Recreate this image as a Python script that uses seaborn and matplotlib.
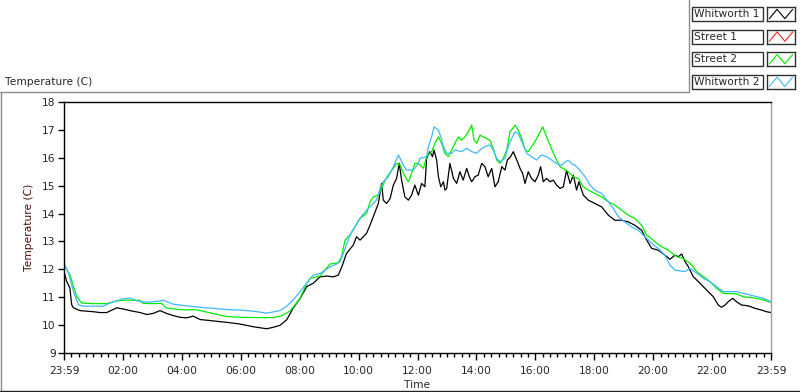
import numpy as np
import pandas as pd
import matplotlib
matplotlib.use("Agg")
import matplotlib.pyplot as plt
from matplotlib.lines import Line2D
from matplotlib.patches import Rectangle
import seaborn as sns

# --- data (hours since 23:59, deg C) ---
series_names = ["Whitworth 1", "Street 1", "Street 2", "Whitworth 2"]
series_colors = ["#000000", "#ff2020", "#00ee00", "#40b8ff"]

tick_hours = list(range(0, 25, 2))
tick_labels = ["23:59", "02:00", "04:00", "06:00", "08:00", "10:00", "12:00",
               "14:00", "16:00", "18:00", "20:00", "22:00", "23:59"]

w1_hours = [0.00, 0.09, 0.20, 0.26, 0.32, 0.54, 0.77, 1.00, 1.22, 1.45, 1.79, 2.00,
            2.24, 2.58, 2.81, 3.03, 3.26, 3.48, 3.71, 3.94, 4.16, 4.39, 4.62, 5.07,
            5.52, 5.97, 6.43, 6.88, 7.10, 7.33, 7.56, 7.78, 8.01, 8.24, 8.46, 8.69,
            8.92, 9.14, 9.31, 9.43, 9.59, 9.82, 9.93, 10.05, 10.16, 10.27, 10.39, 10.50,
            10.67, 10.78, 10.84, 10.95, 11.07, 11.18, 11.29, 11.38, 11.46, 11.57, 11.69, 11.80,
            11.91, 12.03, 12.14, 12.25, 12.31, 12.42, 12.51, 12.56, 12.65, 12.71, 12.79, 12.88,
            12.93, 12.99, 13.10, 13.22, 13.33, 13.44, 13.55, 13.67, 13.76, 13.84, 13.95, 14.06,
            14.18, 14.29, 14.40, 14.52, 14.63, 14.74, 14.86, 14.97, 15.05, 15.16, 15.25, 15.37,
            15.48, 15.57, 15.65, 15.76, 15.87, 15.99, 16.10, 16.18, 16.27, 16.38, 16.50, 16.61,
            16.72, 16.84, 16.95, 17.06, 17.18, 17.29, 17.40, 17.48, 17.63, 17.80, 18.02, 18.25,
            18.48, 18.70, 18.93, 19.16, 19.38, 19.61, 19.78, 19.95, 20.17, 20.40, 20.57, 20.74,
            20.85, 20.97, 21.08, 21.19, 21.36, 21.59, 21.81, 22.04, 22.21, 22.32, 22.44, 22.55,
            22.70, 22.83, 23.00, 23.23, 23.46, 23.68, 23.85, 24.00]
w1_temp = [11.92, 11.57, 11.33, 10.73, 10.62, 10.52, 10.50, 10.48, 10.45, 10.45, 10.62, 10.58,
           10.52, 10.45, 10.38, 10.42, 10.52, 10.42, 10.34, 10.28, 10.26, 10.32, 10.20, 10.15,
           10.10, 10.04, 9.94, 9.87, 9.92, 9.99, 10.19, 10.61, 10.95, 11.38, 11.50, 11.73,
           11.76, 11.73, 11.79, 12.09, 12.57, 12.87, 13.17, 13.05, 13.17, 13.29, 13.59, 13.89,
           14.36, 15.08, 14.48, 14.36, 14.54, 15.02, 15.26, 15.80, 15.20, 14.60, 14.48, 14.66,
           15.02, 14.66, 15.08, 14.96, 15.98, 16.22, 16.04, 16.28, 15.92, 15.32, 14.96, 15.14,
           14.84, 14.90, 15.80, 15.26, 15.08, 15.50, 15.20, 15.62, 15.32, 15.14, 15.32, 15.38,
           15.80, 15.68, 15.32, 15.62, 14.96, 15.14, 15.68, 15.56, 15.92, 16.04, 16.22, 15.92,
           15.62, 15.44, 15.08, 15.50, 15.26, 15.14, 15.38, 15.68, 15.14, 15.26, 15.14, 15.20,
           15.02, 14.90, 14.96, 15.55, 15.08, 15.38, 14.84, 15.14, 14.66, 14.48, 14.36, 14.24,
           13.94, 13.76, 13.76, 13.70, 13.58, 13.40, 13.05, 12.75, 12.69, 12.51, 12.36, 12.51,
           12.45, 12.55, 12.28, 12.10, 11.74, 11.50, 11.26, 11.02, 10.72, 10.64, 10.72, 10.84,
           10.96, 10.84, 10.72, 10.69, 10.60, 10.54, 10.48, 10.45]

s2_hours = [0.00, 0.20, 0.43, 0.60, 1.00, 1.45, 1.79, 2.00, 2.58, 2.69, 3.00, 3.31,
            3.48, 4.00, 4.50, 5.00, 5.52, 6.00, 6.65, 7.00, 7.33, 7.67, 8.01, 8.24,
            8.35, 8.69, 9.03, 9.14, 9.31, 9.42, 9.54, 9.71, 9.88, 10.05, 10.27, 10.39,
            10.50, 10.67, 10.78, 10.90, 11.01, 11.18, 11.29, 11.41, 11.52, 11.69, 11.80, 11.91,
            12.03, 12.20, 12.31, 12.48, 12.59, 12.71, 12.82, 12.93, 13.05, 13.16, 13.27, 13.39,
            13.50, 13.61, 13.72, 13.84, 13.92, 14.01, 14.12, 14.23, 14.35, 14.46, 14.57, 14.69,
            14.80, 14.91, 15.03, 15.14, 15.31, 15.42, 15.54, 15.65, 15.76, 15.87, 15.99, 16.13,
            16.25, 16.36, 16.47, 16.59, 16.72, 16.84, 16.95, 17.12, 17.29, 17.46, 17.63, 17.80,
            18.02, 18.25, 18.48, 18.70, 18.93, 19.16, 19.38, 19.61, 19.78, 19.95, 20.12, 20.29,
            20.51, 20.80, 21.02, 21.25, 21.48, 21.70, 21.93, 22.15, 22.38, 22.83, 23.06, 23.51,
            23.74, 24.00]
s2_temp = [12.19, 11.80, 11.03, 10.79, 10.77, 10.77, 10.87, 10.89, 10.89, 10.78, 10.77, 10.78,
           10.61, 10.55, 10.55, 10.43, 10.31, 10.28, 10.27, 10.27, 10.31, 10.50, 10.95, 11.50,
           11.67, 11.76, 12.19, 12.21, 12.24, 12.45, 13.05, 13.23, 13.53, 13.83, 14.00, 14.42,
           14.60, 14.66, 14.90, 15.20, 15.38, 15.62, 15.80, 15.74, 15.44, 15.14, 15.44, 15.80,
           15.80, 15.62, 16.04, 16.22, 16.52, 16.75, 16.52, 16.16, 16.04, 16.28, 16.52, 16.75,
           16.63, 16.75, 16.93, 17.17, 16.63, 16.52, 16.81, 16.75, 16.69, 16.63, 16.34, 15.92,
           15.80, 15.98, 16.28, 16.93, 17.17, 16.99, 16.69, 16.28, 16.22, 16.40, 16.58, 16.87,
           17.11, 16.81, 16.52, 16.22, 15.92, 15.68, 15.61, 15.50, 15.32, 15.26, 14.96, 14.84,
           14.72, 14.60, 14.42, 14.30, 14.12, 13.94, 13.82, 13.58, 13.22, 13.10, 12.93, 12.81,
           12.69, 12.45, 12.39, 12.22, 11.92, 11.74, 11.56, 11.32, 11.14, 11.12, 11.02, 10.96,
           10.90, 10.82]

w2_hours = [0.00, 0.15, 0.32, 0.49, 0.66, 1.00, 1.33, 1.56, 1.79, 2.00, 2.24, 2.47,
            2.81, 3.15, 3.37, 3.71, 4.16, 4.62, 5.07, 5.52, 5.97, 6.43, 6.88, 7.10,
            7.33, 7.56, 7.78, 8.01, 8.24, 8.46, 8.69, 9.03, 9.26, 9.37, 9.48, 9.71,
            9.88, 10.01, 10.10, 10.27, 10.61, 10.73, 10.84, 11.01, 11.18, 11.35, 11.41, 11.52,
            11.63, 11.86, 12.03, 12.08, 12.31, 12.37, 12.48, 12.56, 12.71, 12.79, 12.88, 12.99,
            13.16, 13.27, 13.50, 13.67, 13.84, 14.01, 14.12, 14.29, 14.46, 14.57, 14.69, 14.80,
            14.97, 15.08, 15.20, 15.31, 15.42, 15.54, 15.71, 15.87, 16.04, 16.21, 16.38, 16.55,
            16.72, 16.89, 17.01, 17.12, 17.23, 17.35, 17.52, 17.69, 17.86, 18.02, 18.25, 18.48,
            18.65, 18.82, 19.04, 19.27, 19.50, 19.72, 19.95, 20.17, 20.40, 20.57, 20.74, 21.08,
            21.25, 21.48, 21.70, 21.93, 22.15, 22.38, 22.83, 23.06, 23.29, 23.51, 23.74, 24.00]
w2_temp = [12.22, 11.87, 11.21, 10.73, 10.68, 10.68, 10.68, 10.79, 10.87, 10.94, 10.97, 10.87,
           10.82, 10.85, 10.89, 10.75, 10.69, 10.64, 10.60, 10.56, 10.54, 10.50, 10.43, 10.47,
           10.52, 10.68, 10.90, 11.20, 11.50, 11.79, 11.85, 12.09, 12.19, 12.27, 12.57, 13.23,
           13.53, 13.77, 13.90, 14.12, 14.48, 14.90, 15.14, 15.32, 15.68, 16.10, 15.98, 15.74,
           15.56, 15.56, 15.80, 15.98, 16.04, 16.40, 16.75, 17.11, 16.99, 16.75, 16.40, 16.16,
           16.16, 16.28, 16.22, 16.34, 16.22, 16.16, 16.28, 16.40, 16.46, 16.28, 15.98, 15.86,
           15.98, 16.40, 16.70, 16.93, 16.87, 16.58, 16.16, 16.04, 15.92, 16.10, 16.04, 15.92,
           15.80, 15.73, 15.85, 15.91, 15.79, 15.73, 15.55, 15.32, 15.02, 14.84, 14.72, 14.42,
           14.18, 13.88, 13.70, 13.52, 13.40, 13.17, 12.93, 12.75, 12.51, 12.15, 11.97, 11.92,
           12.04, 11.86, 11.68, 11.56, 11.38, 11.20, 11.20, 11.14, 11.08, 11.02, 10.96, 10.84]


def px_x(p):
    return p / 800.0


def px_y(p):
    return 1.0 - p / 392.0


def main():
    sns.set_style("white")
    plt.rcParams["font.family"] = ["DejaVu Sans"]
    plt.rcParams["font.size"] = 7.7

    df = pd.concat([
        pd.DataFrame({"hour": w1_hours, "temp": w1_temp, "series": "Whitworth 1"}),
        pd.DataFrame({"hour": s2_hours, "temp": s2_temp, "series": "Street 2"}),
        pd.DataFrame({"hour": w2_hours, "temp": w2_temp, "series": "Whitworth 2"}),
    ], ignore_index=True)
    palette = dict(zip(series_names, series_colors))

    fig = plt.figure(figsize=(8, 3.92), dpi=100)
    fig.patch.set_facecolor("white")

    # plot area in pixel terms of the reference
    ax = fig.add_axes([px_x(64), px_y(353), px_x(771 - 64), (353 - 102) / 392.0])
    sns.lineplot(data=df, x="hour", y="temp", hue="series",
                 hue_order=["Whitworth 1", "Street 2", "Whitworth 2"],
                 palette=palette, estimator=None, sort=False, legend=False,
                 linewidth=0.9, ax=ax)

    ax.set_xlim(0, 24)
    ax.set_ylim(9, 18)
    ax.set_xticks(tick_hours)
    ax.set_xticklabels(tick_labels)
    ax.set_xticks(np.arange(0, 24.01, 0.25), minor=True)
    ax.set_yticks(range(9, 19))
    ax.tick_params(axis="x", which="both", bottom=True)
    ax.tick_params(axis="y", which="major", left=True)
    ax.tick_params(axis="x", which="major", direction="out", length=5, width=1,
                   color="black", pad=4, labelsize=7.7)
    ax.tick_params(axis="x", which="minor", direction="out", length=3, width=1,
                   color="black")
    ax.tick_params(axis="y", which="major", direction="out", length=4, width=1,
                   color="black", pad=2, labelsize=7.7)

    for side in ["left", "bottom", "top"]:
        ax.spines[side].set_color("black")
        ax.spines[side].set_linewidth(1)
    ax.spines["right"].set_color("#a0a0a0")
    ax.spines["right"].set_linewidth(1)

    ax.set_xlabel("Time", fontsize=7.7, labelpad=3)
    ax.set_ylabel("Temperature (C)", fontsize=7.7, color="#4a0a0a", labelpad=6)

    # panel caption and frame
    fig.text(px_x(5), px_y(82), "Temperature (C)", fontsize=7.7, va="center", ha="left")
    frame = dict(transform=fig.transFigure, color="#8c8c8c", linewidth=1)
    fig.add_artist(Line2D([0, px_x(689)], [px_y(92), px_y(92)], **frame))
    fig.add_artist(Line2D([px_x(689), px_x(689)], [px_y(92), 1.0], **frame))
    fig.add_artist(Line2D([px_x(0.5), px_x(0.5)], [px_y(92), px_y(391)], **frame))
    fig.add_artist(Line2D([0, 1], [px_y(391), px_y(391)], transform=fig.transFigure,
                          color="#202020", linewidth=1))

    # LabVIEW-style plot legend
    for i, (name, color) in enumerate(zip(series_names, series_colors)):
        top = 7 + 22.6 * i
        h = 14
        fig.add_artist(Rectangle((px_x(692), px_y(top + h)), px_x(71), h / 392.0,
                                 transform=fig.transFigure, facecolor="white",
                                 edgecolor="#303030", linewidth=1))
        fig.text(px_x(694), px_y(top + h / 2), name, fontsize=7.7, va="center", ha="left")
        sw = fig.add_axes([px_x(767), px_y(top + h), px_x(28), h / 392.0])
        sw.plot([0, 1, 2, 3], [0.1, 0.9, 0.1, 0.9], color=color, linewidth=0.8)
        sw.set_xlim(-0.3, 3.3)
        sw.set_ylim(-0.1, 1.1)
        sw.set_xticks([])
        sw.set_yticks([])
        for s in sw.spines.values():
            s.set_color("#303030")
            s.set_linewidth(1)

    fig.savefig("out.png", dpi=100, facecolor="white")


if __name__ == "__main__":
    main()
